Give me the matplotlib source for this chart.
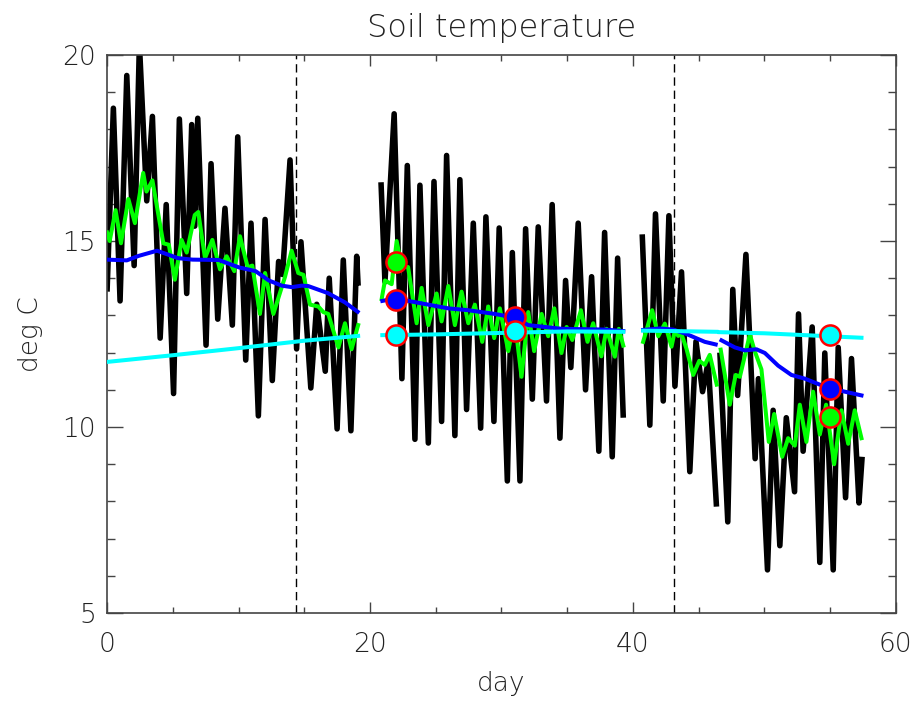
import numpy as np
import matplotlib
matplotlib.use("Agg")
import matplotlib.pyplot as plt
from matplotlib.ticker import MultipleLocator

plt.rcParams["font.family"] = ["DejaVu Sans"]
plt.rcParams["font.weight"] = "light"
plt.rcParams["axes.titleweight"] = "light"
plt.rcParams["axes.labelweight"] = "light"
plt.rcParams["text.color"] = "#222222"
plt.rcParams["axes.labelcolor"] = "#222222"
plt.rcParams["xtick.labelcolor"] = "#222222"
plt.rcParams["ytick.labelcolor"] = "#222222"

nan = np.nan

# hourly-ish soil temperature, peaks and troughs of each day (deg C)
obs_day = [
    0.0, 0.48, 0.99, 1.5, 2.06, 2.46, 3.02, 3.45, 4.04, 4.5, 5.06, 5.5, 6.06, 6.44,
    6.67, 6.9, 7.53, 7.91, 8.42, 8.97, 9.53, 9.94, 10.55, 10.95, 11.51, 12.02, 12.57,
    13.05, 13.35, 13.92, 14.42, 14.75, 15.5, 15.95, 16.6, 16.9, 17.5, 17.97, 18.55,
    18.99, 19.1, nan,
    20.84, 21.14, 21.84, 22.43, 22.84, 23.42, 23.8, 24.44, 24.87, 25.45, 25.83, 26.46,
    26.84, 27.35, 27.86, 28.42, 28.82, 29.43, 29.83, 30.45, 30.83, 31.41, 31.84, 32.35,
    32.8, 33.43, 33.86, 34.45, 34.88, 35.28, 35.84, 36.4, 36.86, 37.41, 37.85, 38.43,
    38.84, 39.27, nan,
    40.71, 41.29, 41.72, 42.31, 42.74, 43.2, 43.7, 44.33, 44.8, 45.3, 45.73, 46.36, nan,
    46.62, 47.22, 47.6, 47.97, 48.6, 49.3, 49.55, 50.24, 50.67, 51.18, 51.67, 52.3,
    52.6, 52.95, 53.64, 54.22, 54.6, 55.24, 55.62, 56.18, 56.63, 57.2, 57.44,
]
obs_temp = [
    13.64, 18.57, 13.39, 19.45, 14.34, 20.3, 16.08, 18.35, 12.39, 15.98, 10.9, 18.28,
    13.59, 18.13, 15.4, 18.3, 12.2, 17.08, 12.9, 15.88, 12.74, 17.8, 11.8, 15.48, 10.3,
    15.58, 11.25, 14.45, 14.1, 17.18, 12.1, 14.98, 11.05, 13.3, 11.5, 14.0, 9.95, 14.49,
    9.9, 14.59, 13.8, nan,
    16.58, 13.9, 18.42, 11.3, 17.03, 9.67, 16.5, 9.57, 16.6, 10.15, 17.3, 9.77, 16.65,
    10.47, 15.48, 9.97, 15.65, 10.15, 15.35, 8.55, 14.69, 8.55, 15.33, 10.75, 15.38,
    10.7, 15.98, 9.7, 13.94, 11.6, 15.48, 11.0, 14.04, 9.35, 15.23, 9.2, 14.54, 10.25, nan,
    15.18, 10.05, 15.73, 10.7, 15.68, 11.1, 14.17, 8.8, 12.3, 10.95, 11.75, 7.86, nan,
    12.0, 7.45, 13.7, 10.85, 14.64, 9.15, 11.3, 6.16, 10.45, 6.81, 10.25, 8.26, 13.04,
    9.35, 12.69, 6.36, 11.99, 6.16, 12.14, 8.1, 11.84, 7.96, 9.2,
]

# daily-smoothed series
smooth_day = [
    0.0, 0.2, 0.65, 1.06, 1.62, 2.12, 2.75, 3.0, 3.45, 4.28, 4.7, 5.16, 5.67, 6.06, 6.67,
    6.94, 7.45, 8.01, 8.59, 9.1, 9.68, 10.11, 10.7, 11.05, 11.63, 12.02, 12.65, 13.54,
    14.04, 14.55, 14.94, 15.44, 16.07, 16.45, 16.83, 17.6, 18.1, 18.6, 19.1, nan,
    20.89, 21.14, 21.65, 22.03, 22.4, 22.9, 23.55, 23.93, 24.44, 25.07, 25.45, 25.96,
    26.46, 26.97, 27.48, 27.98, 28.54, 29.0, 29.45, 29.88, 30.52, 31.0, 31.53, 32.04,
    32.49, 33.06, 33.56, 34.02, 34.57, 34.96, 35.39, 36.05, 36.55, 36.98, 37.6, 38.0,
    38.63, 38.93, 39.27, nan,
    40.78, 41.47, 41.93, 42.43, 42.94, 43.2, 43.45, 43.7, 44.08, 44.59, 45.05, 45.47,
    45.85, 46.38, nan,
    46.68, 47.37, 47.82, 48.14, 48.9, 49.27, 49.78, 50.34, 50.75, 51.36, 51.81, 52.32,
    52.7, 53.2, 53.71, 54.22, 54.7, 55.31, 55.87, 56.38, 56.88, 57.39,
]
smooth_temp = [
    15.23, 15.0, 15.83, 14.94, 16.13, 15.48, 16.83, 16.33, 16.63, 14.94, 14.9, 13.96,
    15.03, 14.69, 15.7, 15.78, 14.54, 15.03, 14.24, 14.59, 14.19, 15.13, 14.29, 14.34,
    13.04, 14.14, 13.04, 14.04, 14.74, 14.14, 14.09, 13.29, 13.24, 13.09, 13.04, 12.14,
    12.79, 12.09, 12.74, nan,
    13.44, 13.94, 13.84, 15.0, 14.34, 14.3, 12.79, 13.74, 12.74, 13.59, 12.84, 13.79,
    12.74, 13.64, 12.79, 13.29, 12.29, 13.24, 12.39, 13.19, 12.04, 12.9, 11.35, 13.09,
    12.04, 13.04, 12.44, 13.19, 11.99, 12.69, 12.34, 13.14, 12.29, 12.79, 11.9, 12.64,
    11.89, 12.64, 12.19, nan,
    12.29, 13.14, 12.44, 12.78, 12.16, 12.6, 12.45, 12.5, 12.1, 11.4, 11.78, 11.67,
    11.94, 11.14, nan,
    12.08, 10.6, 11.4, 11.35, 12.49, 12.04, 11.55, 9.6, 10.35, 9.2, 9.7, 9.5, 10.6, 9.6,
    10.95, 9.8, 10.6, 9.0, 10.45, 9.55, 10.45, 9.7,
]

# running mean
mean_day = [
    0.0, 1.5, 2.4, 3.8, 5.4, 6.5, 8.5, 10.05, 11.3, 12.3, 13.3, 14.05, 14.8, 15.3, 16.8,
    18.1, 19.06, nan,
    20.94, 21.65, 22.92, 24.44, 25.96, 27.48, 28.49, 29.5, 30.26, 31.02, 32.04, 33.3,
    34.57, 37.87, 39.27, nan,
    40.78, 42.05, 43.06, 44.08, 45.47, 46.3, nan,
    46.74, 47.76, 48.52, 49.4, 50.04, 51.05, 52.06, 53.08, 54.86, 56.13, 57.39,
]
mean_temp = [
    14.5, 14.48, 14.6, 14.74, 14.54, 14.5, 14.49, 14.29, 14.19, 13.94, 13.8, 13.76, 13.8,
    13.79, 13.6, 13.35, 13.1, nan,
    13.39, 13.44, 13.39, 13.29, 13.19, 13.14, 13.09, 13.04, 12.99, 12.94, 12.74, 12.69,
    12.64, 12.62, 12.58, nan,
    12.61, 12.65, 12.62, 12.5, 12.29, 12.22, nan,
    12.33, 12.14, 12.06, 12.09, 11.99, 11.65, 11.4, 11.3, 11.05, 10.95, 10.85,
]

# long-term trend
trend_day = [0.0, 5.0, 10.0, 15.0, 19.1, nan, 20.94, 25.0, 30.0, 35.0, 39.27, nan,
             40.78, 43.0, 46.36, nan, 46.6, 50.0, 53.08, 57.39]
trend_temp = [11.75, 11.93, 12.12, 12.32, 12.45, nan, 12.47, 12.49, 12.53, 12.57, 12.56,
              nan, 12.59, 12.58, 12.56, nan, 12.55, 12.52, 12.47, 12.4]

# sampled values
green_pt_day = [22.0, 55.0]
green_pt_temp = [14.44, 10.28]
blue_pt_day = [22.0, 31.0, 55.0]
blue_pt_temp = [13.42, 12.97, 11.02]
cyan_pt_day = [22.0, 31.0, 55.0]
cyan_pt_temp = [12.47, 12.58, 12.47]

period_marks = [14.4, 43.15]

fig = plt.figure(figsize=(9.15, 7.01), dpi=100)
ax = fig.add_axes([0.117, 0.1255, 0.862, 0.796])

for d in period_marks:
    ax.axvline(d, color="black", lw=1.0, linestyle=(0, (6, 3.5)), zorder=1)

ax.plot(obs_day, obs_temp, color="black", lw=4.0, solid_joinstyle="round",
        solid_capstyle="butt", zorder=2)
ax.plot(smooth_day, smooth_temp, color="#00ff00", lw=2.9, solid_joinstyle="round",
        zorder=3)
ax.plot(mean_day, mean_temp, color="#0000ff", lw=2.9, zorder=4)
ax.plot(trend_day, trend_temp, color="#00ffff", lw=2.9, zorder=5)

mk = dict(ls="none", marker="o", ms=14.5, mec="#ff0000", mew=1.8, zorder=6)
ax.plot(green_pt_day, green_pt_temp, mfc="#00ff00", **mk)
ax.plot(blue_pt_day, blue_pt_temp, mfc="#0000ff", **mk)
ax.plot(cyan_pt_day, cyan_pt_temp, mfc="#00ffff", **mk)

ax.set_xlim(0, 60)
ax.set_ylim(5, 20)
ax.xaxis.set_major_locator(MultipleLocator(20))
ax.xaxis.set_minor_locator(MultipleLocator(5))
ax.yaxis.set_major_locator(MultipleLocator(5))
ax.yaxis.set_minor_locator(MultipleLocator(1))

ax.tick_params(axis="both", which="both", direction="in", top=True, right=True,
               color="#444444", width=1.0)
ax.tick_params(axis="x", which="major", length=8, pad=14, labelsize=19)
ax.tick_params(axis="x", which="minor", length=4)
ax.tick_params(axis="y", which="major", length=11.5, pad=8, labelsize=19)
ax.tick_params(axis="y", which="minor", length=5.8)
for s in ax.spines.values():
    s.set_color("#444444")
    s.set_linewidth(1.2)

ax.set_title("Soil temperature", fontsize=23, pad=13)
ax.set_xlabel("day", fontsize=19, labelpad=10)
ax.set_ylabel("deg C", fontsize=19, labelpad=14)

fig.savefig("out.png", dpi=100)
